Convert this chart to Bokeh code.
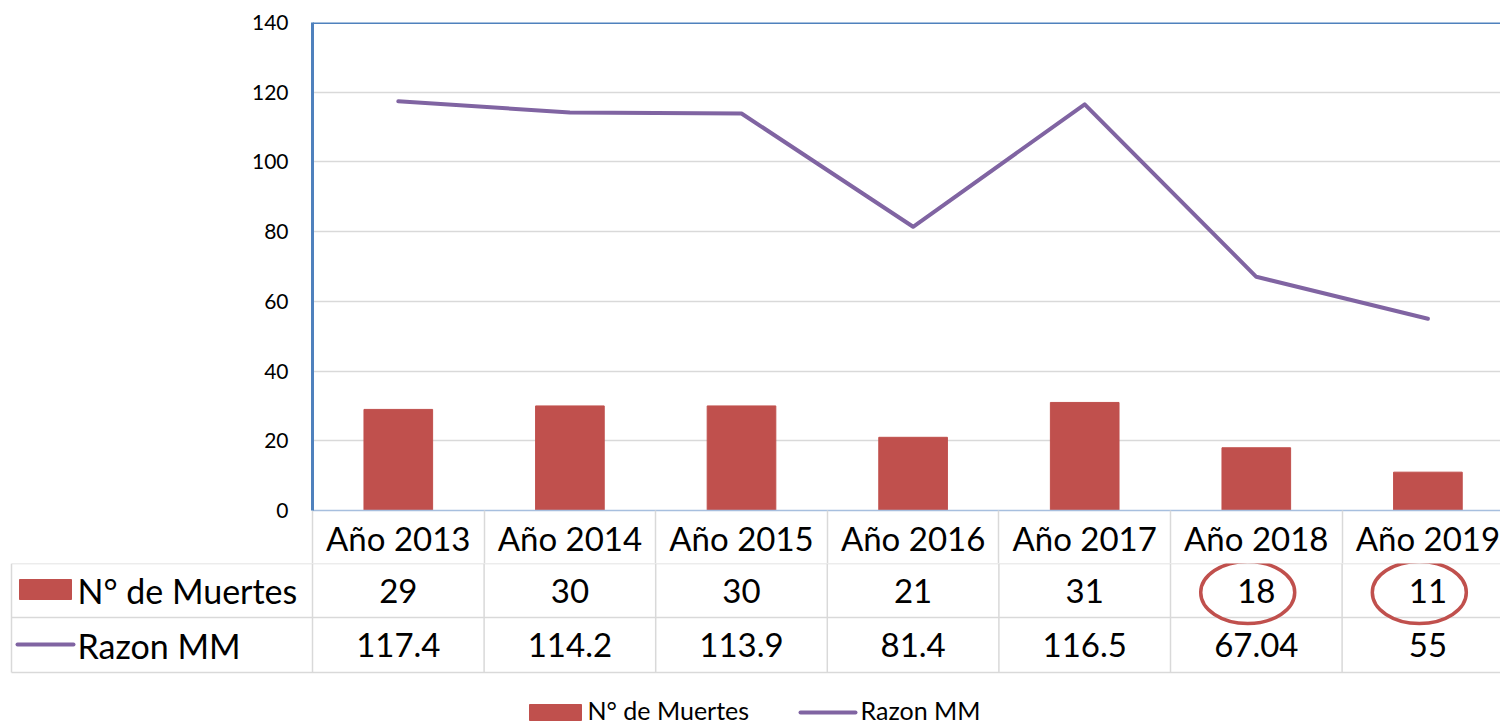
from bokeh.plotting import figure
from bokeh.models import Range1d, FixedTicker, Span
from bokeh.embed import file_html
from bokeh.resources import INLINE
from bokeh.core.properties import value

# ---- data ----
years = ["Año 2013", "Año 2014", "Año 2015", "Año 2016", "Año 2017", "Año 2018", "Año 2019"]
muertes = [29, 30, 30, 21, 31, 18, 11]
razon = [117.4, 114.2, 113.9, 81.4, 116.5, 67.04, 55]
y_ticks = [0, 20, 40, 60, 80, 100, 120, 140]
series_names = ["N° de Muertes", "Razon MM"]
circled = ["Año 2018", "Año 2019"]

# ---- style ----
BAR = "#C0504D"
LINE = "#8064A2"
BLUE = "#4F81BD"
GRID = "#D9D9D9"
FONT = "Lato"
W = 1500

COL = 171.6   # column width (px)
X0 = 312      # left of plot area (page px)


def px(X):
    return (X - X0) / COL


n = len(years)
centers = [i + 0.5 for i in range(n)]
xr_end = px(W)

# ---- main chart ----
p = figure(width=W, height=563, x_range=Range1d(0, xr_end), y_range=Range1d(0, 140),
           output_backend="svg", toolbar_location=None,
           min_border_left=312, min_border_right=0, min_border_top=22, min_border_bottom=53)
p.outline_line_color = None
p.border_fill_color = "white"

p.vbar(x=centers, top=muertes, width=0.4, color=BAR)
p.line(centers, razon, line_width=4, color=LINE, line_join="round", line_cap="round")

yt = FixedTicker(ticks=y_ticks)
p.yaxis.ticker = yt
p.ygrid.ticker = yt
p.yaxis.axis_line_color = BLUE
p.yaxis.axis_line_width = 3
p.yaxis.major_tick_line_color = None
p.yaxis.minor_tick_line_color = None
p.yaxis.major_tick_out = 0
p.yaxis.major_label_text_font = FONT
p.yaxis.major_label_text_font_size = "21px"
p.yaxis.major_label_text_color = "black"
p.yaxis.major_label_standoff = 24
p.ygrid.grid_line_color = GRID
p.ygrid.grid_line_width = 1.5
p.xgrid.visible = False

p.xaxis.ticker = FixedTicker(ticks=centers, minor_ticks=list(range(n + 1)))
p.xaxis.major_label_overrides = {c: y for c, y in zip(centers, years)}
p.xaxis.major_tick_line_color = None
p.xaxis.major_tick_out = 0
p.xaxis.major_tick_in = 0
p.xaxis.minor_tick_out = 53
p.xaxis.minor_tick_in = 0
p.xaxis.minor_tick_line_color = GRID
p.xaxis.minor_tick_line_width = 1.5
p.xaxis.axis_line_color = "#A7BFDE"
p.xaxis.axis_line_width = 1.5
p.xaxis.major_label_text_font = FONT
p.xaxis.major_label_text_font_size = "33px"
p.xaxis.major_label_text_color = "black"
p.xaxis.major_label_standoff = -46

p.add_layout(Span(location=140, dimension="width", line_color=BLUE, line_width=3))

# ---- data table + legend ----
t = figure(width=W, height=160, x_range=Range1d(px(0), xr_end), y_range=Range1d(723, 563),
           output_backend="svg", toolbar_location=None, min_border=0,
           x_axis_location=None, y_axis_location=None)
t.outline_line_color = None
t.grid.visible = False
t.border_fill_color = "white"

row_y = [590, 644.5]
left_x = px(11)
t.segment(x0=[left_x] * 3, y0=[563, 617, 672], x1=[n] * 3, y1=[563, 617, 672],
          line_color=GRID, line_width=1.5)
vx = [left_x] + list(range(n + 1))
t.segment(x0=vx, y0=[563] * len(vx), x1=vx, y1=[672] * len(vx),
          line_color=GRID, line_width=1.5)

tf = dict(text_font=value(FONT), text_color="black", text_baseline="middle")
t.text(x=centers, y=[row_y[0]] * n, text=[str(m) for m in muertes], text_align="center",
       text_font_size="33px", **tf)
t.text(x=centers, y=[row_y[1]] * n, text=[f"{v:g}" for v in razon], text_align="center",
       text_font_size="33px", **tf)
t.text(x=[px(77)] * 2, y=row_y, text=series_names, text_align="left",
       text_font_size="34px", **tf)

t.quad(left=px(19), right=px(71), top=579, bottom=599, color=BAR)
t.line([px(17), px(73)], [644, 644], line_width=4, color=LINE, line_cap="round")

idx = [years.index(c) for c in circled]
t.ellipse(x=[centers[i] - 0.05 for i in idx], y=[592] * len(idx), width=94, height=62,
          width_units="screen", height_units="screen",
          fill_color=None, line_color=BAR, line_width=3.5)

# bottom legend
t.quad(left=px(529), right=px(581), top=704, bottom=720, color=BAR)
t.line([px(800), px(855)], [712, 712], line_width=4, color=LINE, line_cap="round")
t.text(x=[px(587), px(860)], y=[709, 709], text=series_names, text_align="left",
       text_font_size="25px", **tf)

open("out.html", "w").write(file_html([p, t], INLINE))
